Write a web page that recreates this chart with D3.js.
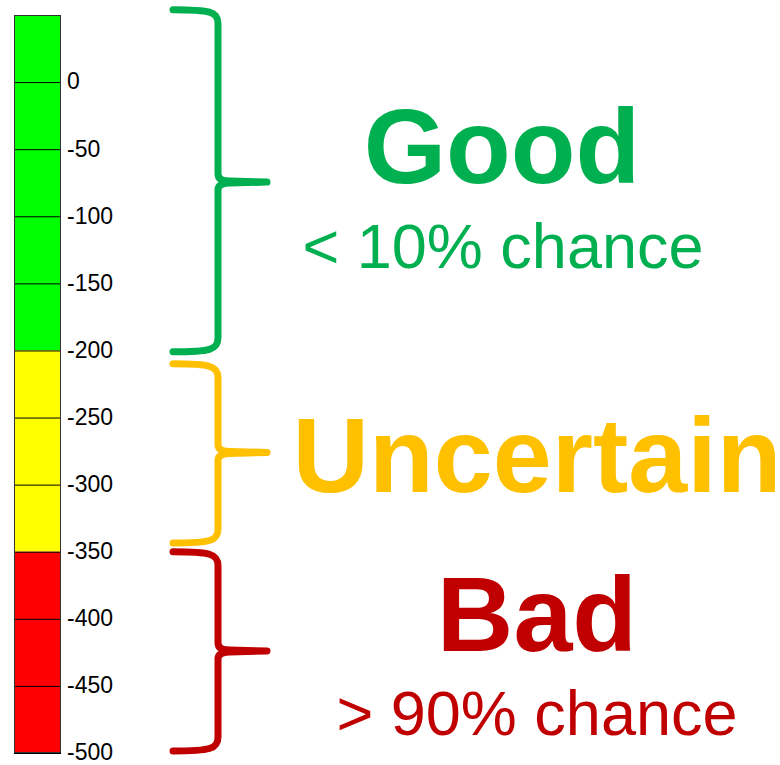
<!DOCTYPE html>
<html>
<head>
<meta charset="utf-8">
<title>Good / Uncertain / Bad</title>
<script src="https://cdn.jsdelivr.net/npm/d3@7"></script>
<style>
body, html {
  margin: 0;
  background: #fff;
}
svg {
  display: block;
  font-family: "Liberation Sans", Arial, sans-serif;
}
.axis text {
  font-size: 23px;
  fill: #000;
}
.axis line {
  stroke: #000;
  stroke-width: 1px;
}
.brace {
  fill: none;
  stroke-width: 7px;
  stroke-linecap: round;
  stroke-linejoin: round;
}
</style>
</head>
<body>
<script>
// scale values
var tickValues = [0, -50, -100, -150, -200, -250, -300, -350, -400, -450, -500];
var scaleTop = 50, scaleBottom = -500;

// bands on the colour bar
var bandNames = ["Good", "Uncertain", "Bad"];
var bandFrom = [50, -200, -350];
var bandTo = [-200, -350, -500];
var bandFill = ["#00ff00", "#ffff00", "#ff0000"];

// braces (in scale units) and their labels
var braceFrom = [54, -210, -350];
var braceTip = [-74.5, -276, -424];
var braceTo = [-201, -343.5, -498.5];
var braceColor = ["#00b050", "#ffc000", "#c00000"];
var subtitles = ["< 10% chance", "", "> 90% chance"];

var width = 780, height = 765;

var svg = d3.select("body").append("svg")
    .attr("width", width)
    .attr("height", height);

var y = d3.scaleLinear()
    .domain([scaleTop, scaleBottom])
    .range([15, 753]);

var barX = 14, barW = 47;

// colour bands
svg.append("g")
  .selectAll("rect")
    .data(bandNames)
  .enter().append("rect")
    .attr("x", barX)
    .attr("width", barW)
    .attr("y", function(d, i) { return y(bandFrom[i]); })
    .attr("height", function(d, i) { return y(bandTo[i]) - y(bandFrom[i]); })
    .attr("fill", function(d, i) { return bandFill[i]; });

// ticks run across the bar, labels to its right
var axis = svg.append("g")
    .attr("class", "axis")
    .attr("transform", "translate(" + (barX + barW) + ",0)")
    .call(d3.axisRight(y)
      .tickValues(tickValues)
      .tickSize(-barW)
      .tickPadding(6)
      .tickFormat(d3.format("d")));
axis.select(".domain").remove();
axis.selectAll("text").attr("dy", "0.3em");
axis.selectAll("text").text(function(d) { return d < 0 ? "-" + Math.abs(d) : d; });

// outline of the bar
svg.append("rect")
    .attr("x", barX + 0.5)
    .attr("y", y(scaleTop) + 0.5)
    .attr("width", barW - 1)
    .attr("height", y(scaleBottom) - y(scaleTop) - 1)
    .attr("fill", "none")
    .attr("stroke", "#333")
    .attr("stroke-width", 1);

// curly braces
var x0 = 173, xs = 218, xt = 267;
function bracePath(i) {
  var y0 = y(braceFrom[i]), ym = y(braceTip[i]), y1 = y(braceTo[i]);
  var p = d3.path();
  p.moveTo(x0, y0);
  p.bezierCurveTo(xs - 8, y0, xs, y0 + 2, xs, y0 + 14);
  p.lineTo(xs, ym - 8);
  p.quadraticCurveTo(xs, ym - 1, xs + 12, ym - 1);
  p.lineTo(xt, ym);
  p.moveTo(xt, ym);
  p.lineTo(xs + 12, ym + 1);
  p.quadraticCurveTo(xs, ym + 1, xs, ym + 8);
  p.lineTo(xs, y1 - 14);
  p.bezierCurveTo(xs, y1 - 2, xs - 8, y1, x0, y1);
  return p.toString();
}

svg.append("g")
  .selectAll("path")
    .data(bandNames)
  .enter().append("path")
    .attr("class", "brace")
    .attr("stroke", function(d, i) { return braceColor[i]; })
    .attr("d", function(d, i) { return bracePath(i); });

// labels
var titleX = [502, 537, 537];
var titleY = [183, 492, 651];
var subX = [503, 0, 537];
var subY = [268, 0, 735];

var labels = svg.append("g").attr("text-anchor", "middle");

labels.selectAll("text.title")
    .data(bandNames)
  .enter().append("text")
    .attr("class", "title")
    .attr("x", function(d, i) { return titleX[i]; })
    .attr("y", function(d, i) { return titleY[i]; })
    .attr("fill", function(d, i) { return braceColor[i]; })
    .style("font-size", "106px")
    .style("font-weight", "bold")
    .text(function(d) { return d; });

labels.selectAll("text.sub")
    .data(subtitles.filter(function(s) { return s; }))
  .enter().append("text")
    .attr("class", "sub")
    .attr("x", function(d) { var i = subtitles.indexOf(d); return subX[i]; })
    .attr("y", function(d) { var i = subtitles.indexOf(d); return subY[i]; })
    .attr("fill", function(d) { return braceColor[subtitles.indexOf(d)]; })
    .style("font-size", "63px")
    .text(function(d) { return d; });
</script>
</body>
</html>
